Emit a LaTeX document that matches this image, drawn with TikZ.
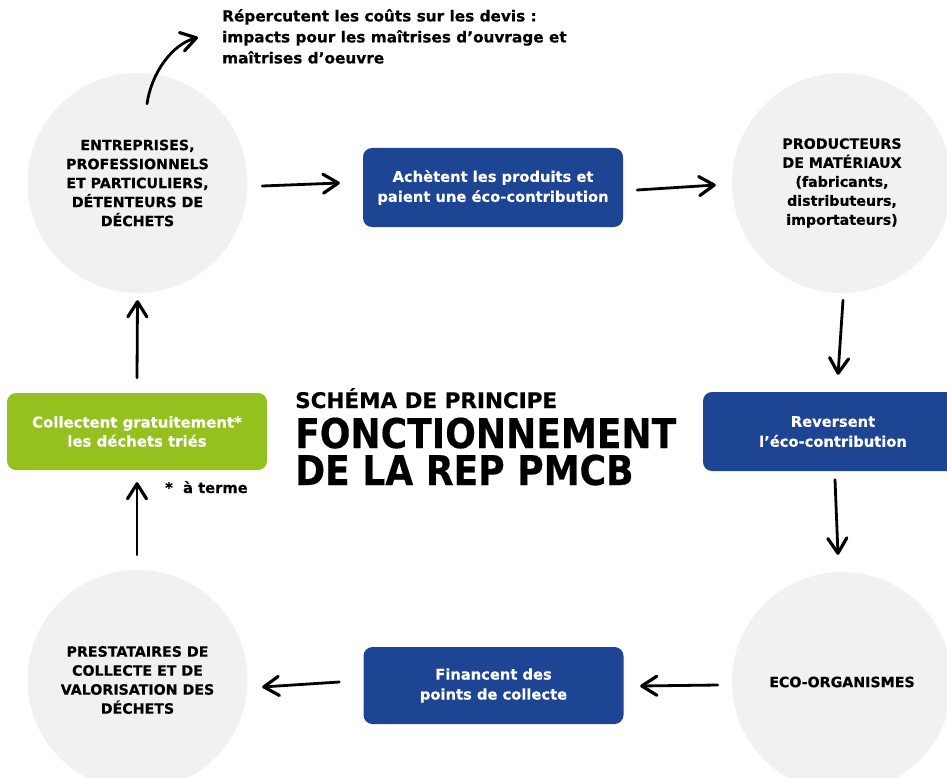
\documentclass[tikz,border=0pt]{standalone}
\usepackage{fontspec}
\setmainfont{DejaVu Sans}[BoldFeatures={FakeBold=0.4}]
\newfontfamily\titlefont{DejaVu Sans}[FakeStretch=0.88, BoldFeatures={FakeBold=0.4}]
\usetikzlibrary{calc,arrows.meta}
\definecolor{circfill}{HTML}{F1F1F1}
\definecolor{bleu}{HTML}{1E4494}
\definecolor{vert}{HTML}{95C11F}
\tikzset{
  circnode/.style={circle, fill=circfill, minimum size=220pt, inner sep=0pt, align=center,
    font=\bfseries\fontsize{14.2}{19}\selectfont},
  boxnode/.style={rounded corners=9pt, fill=bleu, text=white, minimum width=260pt,
    minimum height=79pt, inner sep=0pt, align=center, font=\bfseries\fontsize{14.7}{20}\selectfont},
  arr/.style={line width=2.8pt, line cap=round,
    -{Straight Barb[length=15pt,width=19pt,round,line width=3.2pt]}},
}
\begin{document}
\begin{tikzpicture}[x=1pt,y=-1pt]
\useasboundingbox (0,0) rectangle (947,778);
\clip (0,0) rectangle (947,778);
\fill[white] (0,0) rectangle (947,778);

\node[circnode] (c1) at (137.5,183) {ENTREPRISES,\\PROFESSIONNELS\\ET PARTICULIERS,\\DÉTENTEURS DE\\DÉCHETS};
\node[circnode] (c2) at (842,183) {PRODUCTEURS\\DE MATÉRIAUX\\(fabricants,\\distributeurs,\\importateurs)};
\node[circnode] (c3) at (842,682) {ECO-ORGANISMES};
\node[circnode] (c4) at (137.5,680) {PRESTATAIRES DE\\COLLECTE ET DE\\VALORISATION DES\\DÉCHETS};

\node[boxnode] (b1) at (493,187.5) {Achètent les produits et\\paient une éco-contribution};
\node[boxnode] (b2) at (833,431.5) {Reversent\\l’éco-contribution};
\node[boxnode, minimum height=77pt] (b3) at (493.5,685.5) {Financent des\\points de collecte};
\node[boxnode, fill=vert, minimum height=77pt, font=\bfseries\fontsize{14.9}{19}\selectfont] (g) at (137,431.5) {Collectent gratuitement*\\les déchets triés};

\node[anchor=north west, inner sep=0pt, align=left, font=\bfseries\fontsize{15.3}{21}\selectfont] (rep) at (222,9)
  {Répercutent les coûts sur les devis :\\impacts pour les maîtrises d’ouvrage et\\maîtrises d’oeuvre};

\node[anchor=base west, inner sep=0pt, font=\bfseries\fontsize{14.7}{16}\selectfont] (note) at (165,493) {*\ \ à terme};

\node[anchor=base west, inner sep=0pt, font=\bfseries\fontsize{21.5}{24}\selectfont] (t1) at (295,408) {SCHÉMA DE PRINCIPE};
\node[anchor=base west, inner sep=0pt, font=\titlefont\bfseries\fontsize{41}{44}\selectfont] (t2) at (295,448) {FONCTIONNEMENT};
\node[anchor=base west, inner sep=0pt, font=\titlefont\bfseries\fontsize{41}{44}\selectfont] (t3) at (295,485) {DE LA REP PMCB};

\draw[arr] ($(c1.east)+(14.5,3)$) -- ($(b1.west)+(-23,-4.5)$);
\draw[arr] ($(b1.east)+(14,2.5)$) -- ($(c2.west)+(-16,2)$);
\draw[arr] ($(c2.south)+(1,7)$) -- ($(b2.north)+(5,-17)$);
\draw[arr] ($(b2.south)+(2,8.5)$) -- ($(c3.north)+(-4,-17)$);
\draw[arr] ($(c3.west)+(-14,3)$) -- ($(b3.east)+(16.5,0.5)$);
\draw[arr] ($(b3.west)+(-24,-3.5)$) -- ($(c4.east)+(14.5,7)$);
\draw[arr] ($(c4.north)+(-0.5,-15)$) -- ($(g.south)+(0,12)$);
\draw[arr] ($(g.north)+(0,-15)$) -- ($(c1.south)+(0,7)$);
\draw[arr] ($(c1.north)+(9.5,31)$) .. controls ($(c1.north)+(14,0)$) and ($(rep.west)+(-50,8)$) .. ($(rep.west)+(-24,1)$);
\end{tikzpicture}
\end{document}
